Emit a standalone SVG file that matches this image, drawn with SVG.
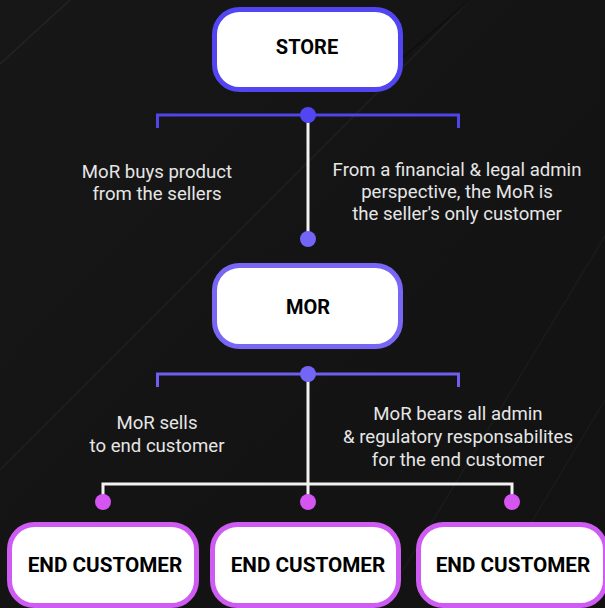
<svg xmlns="http://www.w3.org/2000/svg" width="605" height="608" viewBox="0 0 605 608">
<defs>
<linearGradient id="bg" x1="0" y1="0" x2="1" y2="1">
<stop offset="0" stop-color="#171717"/>
<stop offset="0.5" stop-color="#141414"/>
<stop offset="1" stop-color="#121212"/>
</linearGradient>
<style>
.node rect{fill:#ffffff;stroke-width:5}
.node text{font-family:Roboto,"Liberation Sans",sans-serif;font-weight:bold;font-size:20px;fill:#000;text-anchor:middle}
.node text.ec{font-size:20.7px}
.s1{stroke:#5246f2}
.s2{stroke:#7867f5}
.s3{stroke:#cf5cf2}
.lbl{font-family:Roboto,"Liberation Sans",sans-serif;font-size:18.6px;fill:#e6e6e6;text-anchor:middle}
.wl{stroke:#f2f2f2;stroke-width:3;fill:none}
.br{fill:none;stroke-width:3}
.streak{stroke:#ffffff;fill:none}
</style>
</defs>
<rect width="605" height="608" fill="url(#bg)"/>
<g id="background">
<line class="streak" x1="0" y1="64" x2="70" y2="0" stroke-opacity="0.06" stroke-width="1.5"/>
<line class="streak" x1="0" y1="470" x2="470" y2="0" stroke-opacity="0.035" stroke-width="2"/>
<line class="streak" x1="605" y1="236" x2="380" y2="608" stroke-opacity="0.035" stroke-width="1.5"/>
<line class="streak" x1="605" y1="400" x2="480" y2="608" stroke-opacity="0.03" stroke-width="1.5"/>
<line x1="470" y1="0" x2="400" y2="60" stroke="#000" stroke-opacity="0.25" stroke-width="2"/>
</g>
<g id="connectors">
<path class="br" stroke="#5145ea" d="M157.5,128 V115 H458.5 V128"/>
<line class="wl" x1="308" y1="115" x2="308" y2="239"/>
<circle cx="308" cy="115" r="8" fill="#5246f2"/>
<circle cx="308" cy="239" r="8" fill="#7365f5"/>
<path class="br" stroke="#6e5ff0" d="M157.5,387 V374 H458.5 V387"/>
<path class="wl" d="M308,374 V484 M103,502 V484 H512 V502 M308,484 V502"/>
<circle cx="308" cy="374" r="8" fill="#7365f5"/>
<circle cx="103" cy="502" r="8" fill="#d455f0"/>
<circle cx="308" cy="502" r="8" fill="#d455f0"/>
<circle cx="512" cy="502" r="8" fill="#d455f0"/>
</g>
<g id="labels">
<text class="lbl" x="157" y="178">MoR buys product</text>
<text class="lbl" x="157" y="200">from the sellers</text>
<text class="lbl" x="457" y="176">From a financial &amp; legal admin</text>
<text class="lbl" x="457" y="198">perspective, the MoR is</text>
<text class="lbl" x="457" y="220">the seller's only customer</text>
<text class="lbl" x="157" y="429">MoR sells</text>
<text class="lbl" x="157" y="452">to end customer</text>
<text class="lbl" x="458" y="420">MoR bears all admin</text>
<text class="lbl" x="458" y="443">&amp; regulatory responsabilites</text>
<text class="lbl" x="458" y="466">for the end customer</text>
</g>
<g id="store" class="node">
<rect class="s1" x="214.5" y="9.5" width="186" height="80" rx="25"/>
<text x="307" y="54">STORE</text>
</g>
<g id="mor" class="node">
<rect class="s2" x="214.5" y="265.5" width="186" height="81" rx="25"/>
<text x="308" y="314">MOR</text>
</g>
<g id="end1" class="node">
<rect class="s3" x="9.5" y="524.5" width="187" height="81" rx="25"/>
<text class="ec" x="105" y="572">END CUSTOMER</text>
</g>
<g id="end2" class="node">
<rect class="s3" x="212.5" y="524.5" width="186" height="81" rx="25"/>
<text class="ec" x="308" y="572">END CUSTOMER</text>
</g>
<g id="end3" class="node">
<rect class="s3" x="418.5" y="524.5" width="187" height="81" rx="25"/>
<text class="ec" x="513" y="572">END CUSTOMER</text>
</g>
</svg>
